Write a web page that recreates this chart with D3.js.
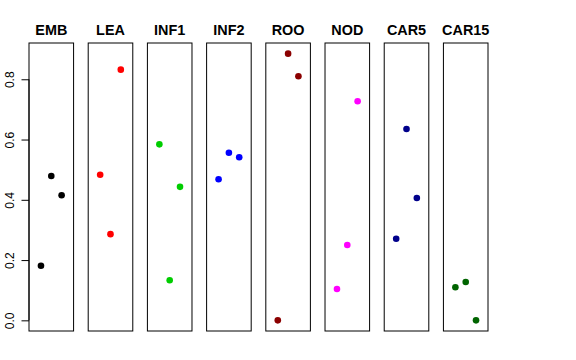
<!DOCTYPE html>
<html><head><meta charset="utf-8">
<script src="https://cdn.jsdelivr.net/npm/d3@7"></script>
<style>html,body{margin:0;padding:0;background:#fff;} svg{display:block;}</style>
</head><body>
<script>
const categories = ["EMB","LEA","INF1","INF2","ROO","NOD","CAR5","CAR15"];
const colors = ["#000000","#FF0000","#00CD00","#0000FF","#8B0000","#FF00FF","#00008B","#006400"];
const xPositions = [1,2,3];
const EMB = [0.181,0.479,0.415];
const LEA = [0.483,0.286,0.832];
const INF1 = [0.584,0.133,0.443];
const INF2 = [0.468,0.556,0.541];
const ROO = [0.000,0.885,0.810];
const NOD = [0.104,0.250,0.727];
const CAR5 = [0.271,0.635,0.406];
const CAR15 = [0.110,0.127,0.000];
const seriesValues = [EMB,LEA,INF1,INF2,ROO,NOD,CAR5,CAR15];
const yTicks = [0.0,0.2,0.4,0.6,0.8];

(function(){
const W=576,H=360;
const svg=d3.select("body").append("svg").attr("width",W).attr("height",H);
const plotTop=43, plotBottom=331;
const panel=d3.scaleBand().domain(categories).range([29,488]).paddingInner(0.247).paddingOuter(0);
const y=d3.scaleLinear().domain([-0.0354,0.9204]).range([plotBottom,plotTop]);
const bw=panel.bandwidth();
const x=d3.scaleLinear().domain([-0.16,4.16]).range([0,bw]);

// y axis
const ax=svg.append("g").attr("transform",`translate(${panel(categories[0])},0)`)
  .call(d3.axisLeft(y).tickValues(yTicks).tickFormat(d3.format(".1f")).tickSize(7.5).tickSizeOuter(0));
ax.select(".domain").attr("d",`M0,${y(0)}V${y(0.8)}`).attr("stroke","#000");
ax.selectAll(".tick line").attr("stroke","#000");
ax.selectAll(".tick text")
  .attr("font-family","Liberation Sans, Arial, Helvetica, sans-serif").attr("font-size",12).attr("fill","#000")
  .attr("transform","rotate(-90)").attr("x",0).attr("y",-15.5).attr("dy",0).attr("text-anchor","middle");

categories.forEach((c,i)=>{
  const g=svg.append("g").attr("transform",`translate(${panel(c)},0)`);
  g.append("rect").attr("x",0).attr("y",plotTop).attr("width",bw).attr("height",plotBottom-plotTop)
    .attr("fill","none").attr("stroke","#000").attr("stroke-width",1);
  g.append("text").attr("x",bw/2).attr("y",34.5).attr("text-anchor","middle")
    .attr("font-family","Liberation Sans, Arial, Helvetica, sans-serif").attr("font-weight","bold").attr("font-size",14.4)
    .text(c);
  g.selectAll("circle").data(seriesValues[i]).enter().append("circle")
    .attr("cx",(d,j)=>x(xPositions[j])).attr("cy",d=>y(d)).attr("r",3.3).attr("fill",colors[i]);
});
})();
</script>
</body></html>
